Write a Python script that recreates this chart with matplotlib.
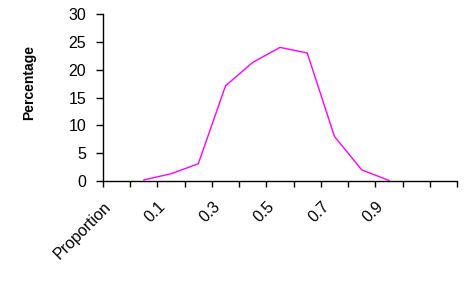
import matplotlib
matplotlib.use("Agg")
import matplotlib.pyplot as plt
import matplotlib.transforms as mtransforms
import numpy as np

plt.rcParams['font.family'] = ['Liberation Sans', 'DejaVu Sans']

# categories on the x axis (Excel-style category axis)
categories = ["Proportion", "0", "0.1", "0.2", "0.3", "0.4", "0.5",
              "0.6", "0.7", "0.8", "0.9", "1", ""]
# percentages for categories "0" .. "0.9"
percentages = [0.2, 1.3, 3.1, 17.1, 21.3, 24.0, 23.0, 8.0, 2.0, 0.1]
first_cat = 1

fig = plt.figure(figsize=(4.69, 2.95), dpi=100)
ax = fig.add_axes([103 / 469, 1 - 181 / 295, 354 / 469, 167 / 295])

xs = np.arange(first_cat, first_cat + len(percentages)) + 0.5
ax.plot(xs, percentages, color='#FF00FF', linewidth=1.0)

ax.set_xlim(0, len(categories))
ax.set_ylim(0, 30)
ax.set_yticks(range(0, 31, 5))

# tick marks at category boundaries, labels on every other category
ax.set_xticks(np.arange(0, len(categories) + 1))
ax.set_xticklabels([])
label_idx = list(range(0, len(categories), 2))
ax.set_xticks([i + 0.5 for i in label_idx], minor=True)
ax.set_xticklabels([categories[i] for i in label_idx], minor=True,
                   rotation=45, ha='right', va='top', rotation_mode='anchor',
                   fontsize=11.5)
ax.tick_params(axis='x', which='minor', length=0, pad=13)
ax.tick_params(axis='x', which='major', direction='out', length=4, width=1)
ax.tick_params(axis='y', direction='out', length=5, width=1, labelsize=11.5, pad=7)

offset = mtransforms.ScaledTranslation(-13 / 100, 0, fig.dpi_scale_trans)
for lab in ax.get_xticklabels(minor=True):
    lab.set_transform(lab.get_transform() + offset)

ax.spines['top'].set_visible(False)
ax.spines['right'].set_visible(False)
ax.spines['left'].set_linewidth(1)
ax.spines['bottom'].set_linewidth(1)

ax.set_ylabel("Percentage", fontsize=10, fontweight='bold')
ax.yaxis.set_label_coords(-0.19, 0.59)

fig.savefig('out.png', dpi=100)
